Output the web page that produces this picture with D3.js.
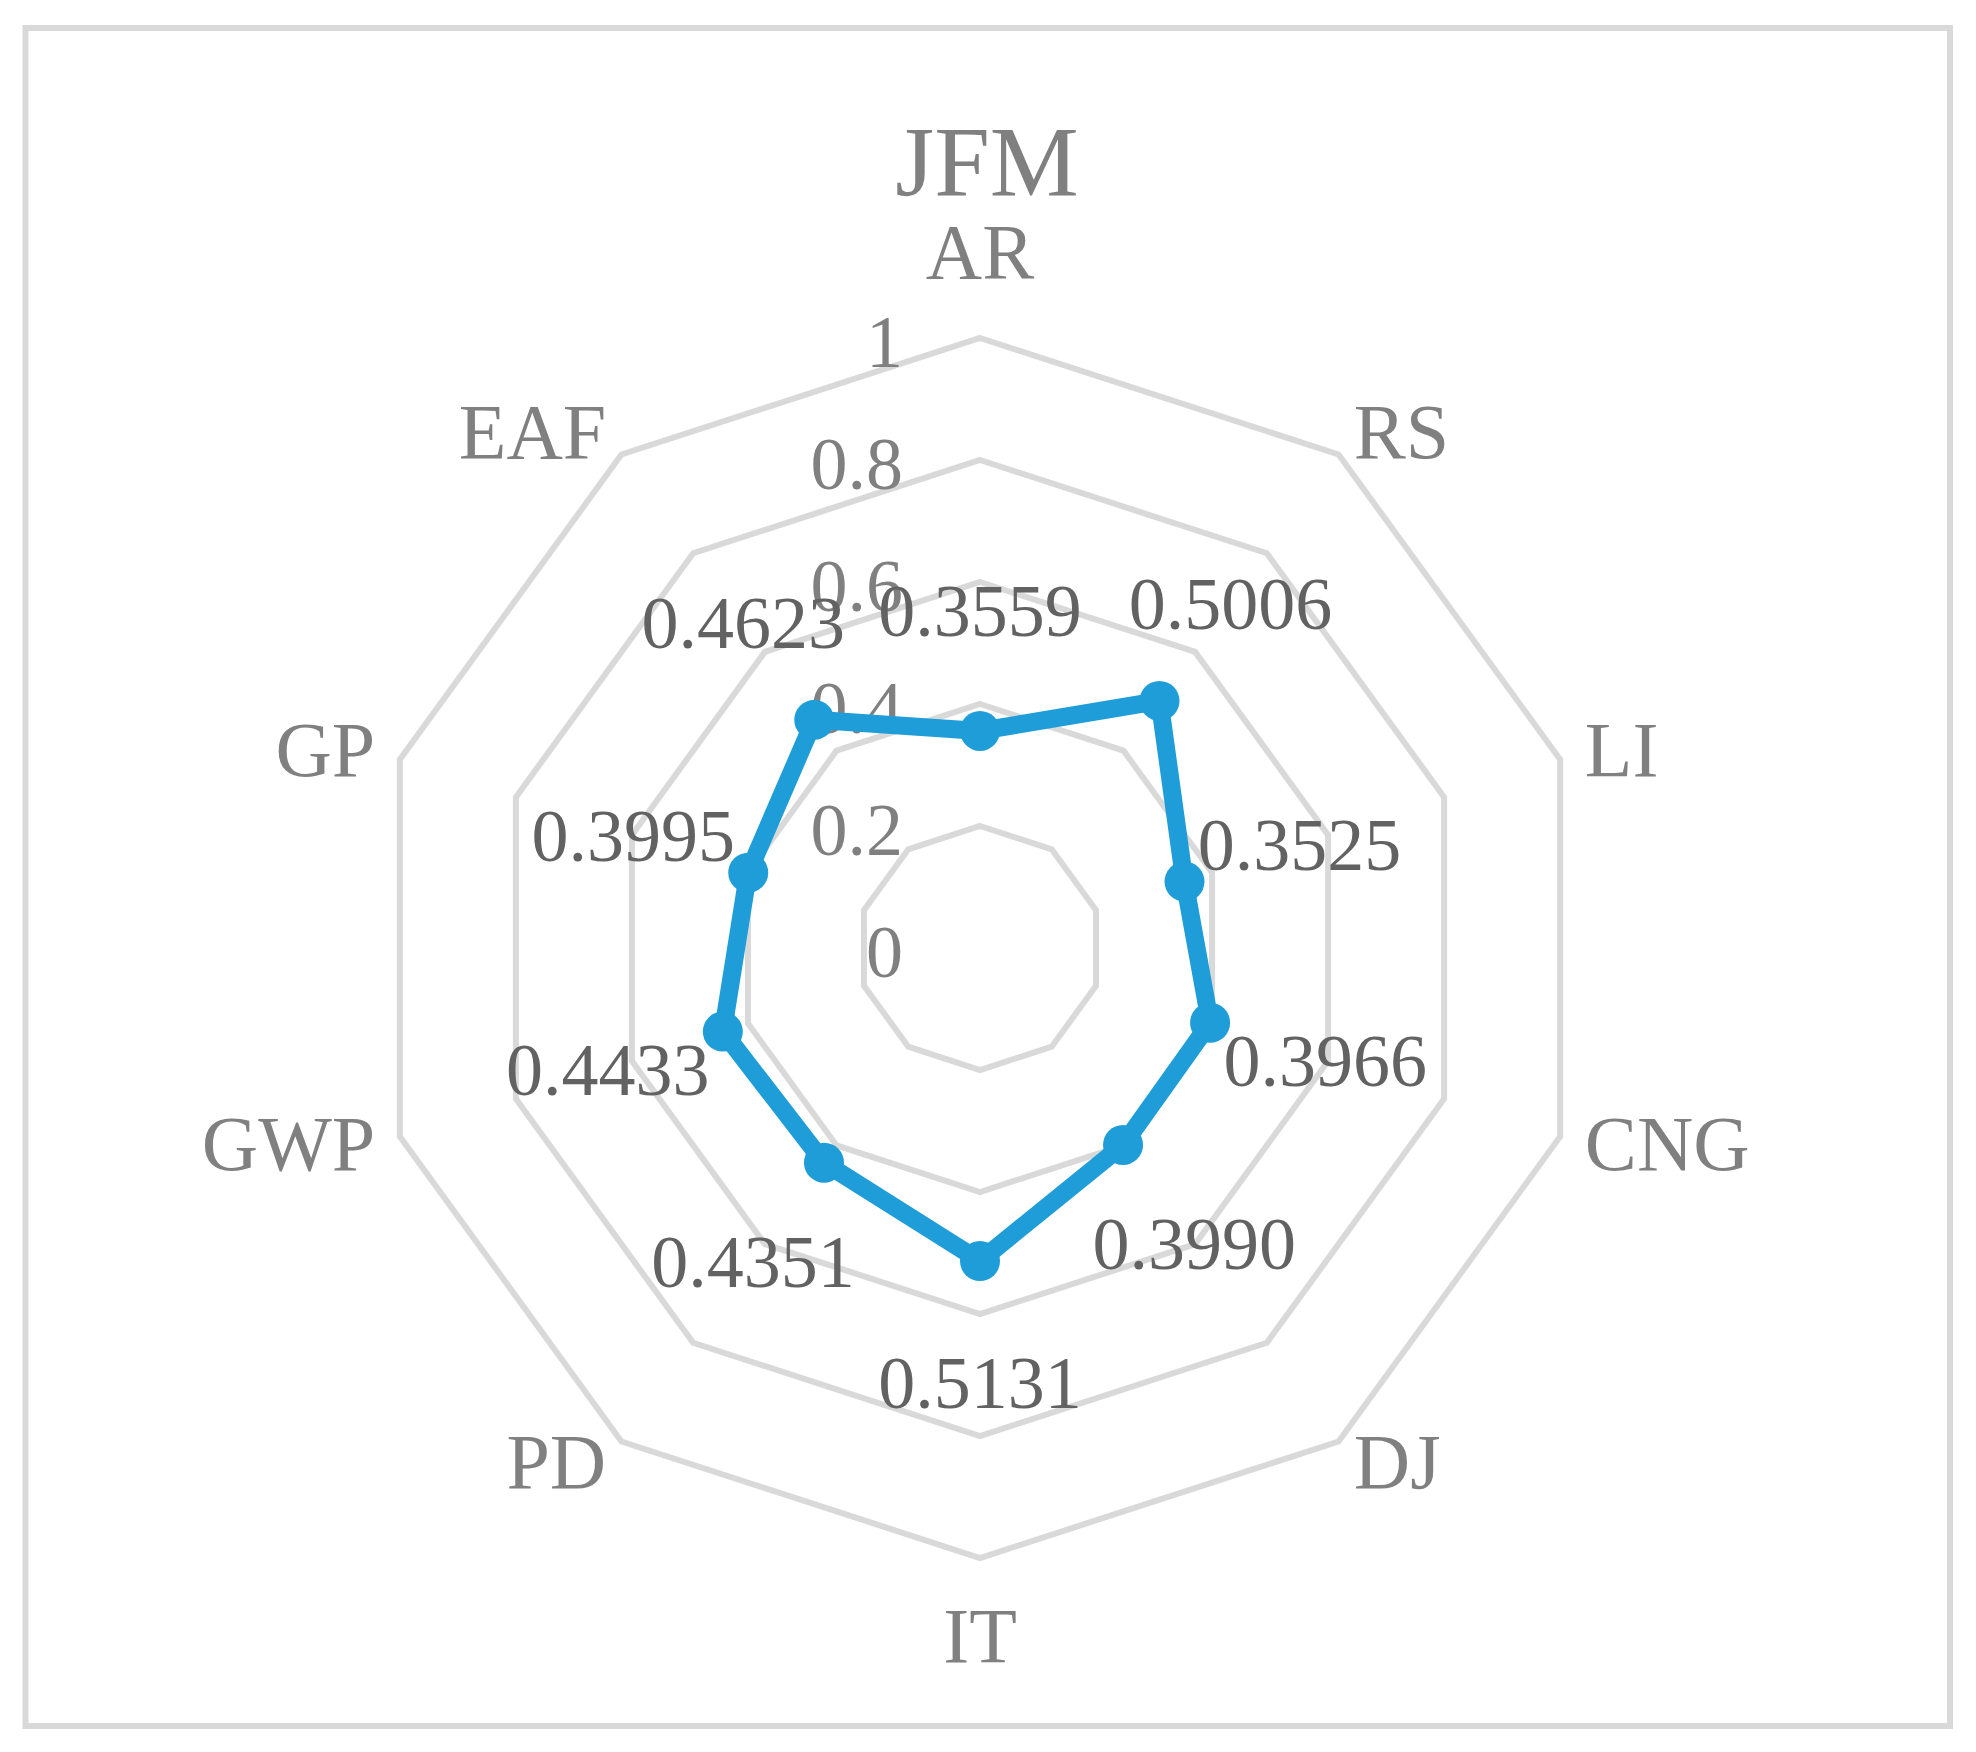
<!DOCTYPE html>
<html>
<head>
<meta charset="utf-8">
<script src="https://cdn.jsdelivr.net/npm/d3@7"></script>
<style>
  html, body { margin: 0; padding: 0; background: #fff; }
  svg { display: block; }
  text { font-family: "Liberation Serif", "Times New Roman", serif; }
</style>
</head>
<body>
<svg id="chart" width="1976" height="1752"></svg>
<script>
const title = "JFM";
const categories = ["AR", "RS", "LI", "CNG", "DJ", "IT", "PD", "GWP", "GP", "EAF"];
const values = [0.3559, 0.5006, 0.3525, 0.3966, 0.3990, 0.5131, 0.4351, 0.4433, 0.3995, 0.4623];
const tickValues = [0, 0.2, 0.4, 0.6, 0.8, 1];
const tickLabels = ["0", "0.2", "0.4", "0.6", "0.8", "1"];

const W = 1976, H = 1752;
const cx = 980, cy = 948, R = 610;
const blue = "#1e9dd8";
const gridColor = "#d9d9d9";

const svg = d3.select("#chart");

// border
svg.append("rect")
  .attr("x", 25.5).attr("y", 28)
  .attr("width", 1950 - 25.5).attr("height", 1726 - 28)
  .attr("fill", "#fff").attr("stroke", gridColor).attr("stroke-width", 6);

const r = d3.scaleLinear().domain([0, 1]).range([0, R]);
const angle = d3.scaleLinear().domain([0, categories.length]).range([0, 2 * Math.PI]);

const g = svg.append("g").attr("transform", `translate(${cx},${cy})`);

// grid rings
const ringLine = d3.lineRadial()
  .angle((d, i) => angle(i))
  .radius(d => d)
  .curve(d3.curveLinearClosed);

g.selectAll("path.ring")
  .data(tickValues.filter(t => t > 0))
  .join("path")
  .attr("class", "ring")
  .attr("d", t => ringLine(categories.map(() => r(t))))
  .attr("fill", "none")
  .attr("stroke", gridColor)
  .attr("stroke-width", 6)
  .attr("stroke-linejoin", "miter");

// tick labels
g.selectAll("text.tick")
  .data(tickValues)
  .join("text")
  .attr("class", "tick")
  .attr("x", -77)
  .attr("y", t => -r(t) + 29)
  .attr("text-anchor", "end")
  .attr("font-size", 74)
  .attr("fill", "#808080")
  .text((t, i) => tickLabels[i]);

// series line
const seriesLine = d3.lineRadial()
  .angle((d, i) => angle(i))
  .radius(d => r(d))
  .curve(d3.curveLinearClosed);

g.append("path")
  .attr("d", seriesLine(values))
  .attr("fill", "none")
  .attr("stroke", blue)
  .attr("stroke-width", 18)
  .attr("stroke-linejoin", "round");

const px = (v, i) => r(v) * Math.sin(angle(i));
const py = (v, i) => -r(v) * Math.cos(angle(i));

g.selectAll("circle.pt")
  .data(values)
  .join("circle")
  .attr("class", "pt")
  .attr("cx", (d, i) => px(d, i))
  .attr("cy", (d, i) => py(d, i))
  .attr("r", 20)
  .attr("fill", blue);

// data labels
const fmt = d3.format(".4f");
const labelOffset = 121;
g.selectAll("text.dl")
  .data(values)
  .join("text")
  .attr("class", "dl")
  .attr("x", (d, i) => px(d, i) + labelOffset * Math.sin(angle(i)))
  .attr("y", (d, i) => py(d, i) - labelOffset * Math.cos(angle(i)) + 26)
  .attr("text-anchor", "middle")
  .attr("font-size", 74)
  .attr("fill", "#626262")
  .text(d => fmt(d));

// category labels
const labelR = 636;
g.selectAll("text.cat")
  .data(categories)
  .join("text")
  .attr("class", "cat")
  .each(function(c, i) {
    const a = angle(i);
    const s = Math.sin(a), co = Math.cos(a);
    const t = d3.select(this);
    if (Math.abs(s) < 0.01) {
      t.attr("x", 0)
       .attr("y", co > 0 ? -R - 60 : R + 104)
       .attr("text-anchor", "middle");
    } else {
      t.attr("x", labelR * s)
       .attr("y", -labelR * co + 25)
       .attr("text-anchor", s > 0 ? "start" : "end");
    }
  })
  .attr("font-size", 78)
  .attr("fill", "#808080")
  .text(c => c);

// title
svg.append("text")
  .attr("x", 987)
  .attr("y", 195)
  .attr("text-anchor", "middle")
  .attr("font-size", 100)
  .attr("fill", "#808080")
  .text(title);
</script>
</body>
</html>
